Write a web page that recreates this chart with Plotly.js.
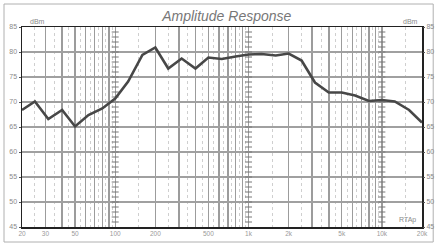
<!DOCTYPE html>
<html><head><meta charset="utf-8">
<script src="https://cdn.plot.ly/plotly-3.0.1.min.js"></script>
<style>html,body{margin:0;padding:0;background:#fff}#chart{width:436px;height:246px}</style>
</head><body><div id="chart"></div>
<script>
const freqs = [20,25,31.5,40,50,63,80,100,125,160,200,250,315,400,500,630,800,1000,1250,1600,2000,2500,3150,4000,5000,6300,8000,10000,12500,16000,20000];
const levels = [68.4,70.1,66.6,68.4,65.1,67.4,68.7,70.7,74.1,79.4,80.9,76.7,78.7,76.7,78.9,78.6,79.1,79.5,79.6,79.3,79.7,78.3,73.9,71.9,71.9,71.3,70.2,70.4,70.1,68.4,65.9];
const gridFreqs = [20,30,40,50,60,70,80,90,100,200,300,400,500,600,700,800,900,1000,2000,3000,4000,5000,6000,7000,8000,9000,10000,20000];
const gridLabels = ['20','30','','50','','','','','100','200','','','500','','','','','1k','2k','','','5k','','','','','10k','20k'];
const minorFreqs = [25,35,45,55,65,75,85,95,150,250,350,450,550,650,750,850,950,1500,2500,3500,4500,5500,6500,7500,8500,9500,15000];
const dbTicks = [45,50,55,60,65,70,75,80,85];
const decadeFreqs = [100,1000,10000];

// decorative ladder ticks on the decade lines (one per dB)
const ladX = [], ladY = [];
decadeFreqs.forEach(f => { for (let d = 46; d < 85; d++) { ladX.push(f); ladY.push(d); } });

const lineTrace = {x:freqs, y:levels, type:'scatter', mode:'lines',
  line:{color:'#474747', width:2.6}, hoverinfo:'skip', showlegend:false};
const ladderTrace = {x:ladX, y:ladY, type:'scatter', mode:'markers',
  marker:{symbol:'line-ew', size:5, line:{color:'#777', width:1}}, hoverinfo:'skip', showlegend:false};
const rightTrace = {x:[20], y:[45], yaxis:'y2', type:'scatter', mode:'markers',
  marker:{opacity:0}, hoverinfo:'skip', showlegend:false};

const tickFont = {family:'Liberation Sans, Arial, sans-serif', size:7, color:'#8a8a8a'};
const xFont = {family:'Liberation Sans, Arial, sans-serif', size:6.5, color:'#9a9a9a'};
const layout = {
  width:436, height:246,
  margin:{l:22, r:14, t:27, b:19},
  paper_bgcolor:'#fff', plot_bgcolor:'#fff',
  title:{text:'<i>Amplitude Response</i>', x:0.52, xanchor:'center', y:0.935, yanchor:'middle',
    font:{family:'Liberation Sans, Arial, sans-serif', size:14, color:'#777'}},
  xaxis:{type:'log', range:[Math.log10(20), Math.log10(20000)],
    tickmode:'array', tickvals:gridFreqs, ticktext:gridLabels,
    showgrid:true, gridcolor:'#9c9c9c', gridwidth:1.4,
    ticks:'', tickfont:xFont, ticklen:0,
    showline:true, linecolor:'#222', linewidth:1.5, mirror:true, zeroline:false,
    minor:{tickmode:'array', tickvals:minorFreqs, showgrid:true, gridcolor:'#cfcfcf', griddash:'dot', gridwidth:1, ticks:''}},
  yaxis:{range:[45,85], tickmode:'array', tickvals:dbTicks,
    showgrid:true, gridcolor:'#a0a0a0', gridwidth:1.3,
    ticks:'outside', ticklen:2, tickcolor:'#555', tickfont:tickFont,
    showline:true, linecolor:'#222', linewidth:1.5, mirror:true, zeroline:false},
  yaxis2:{range:[45,85], overlaying:'y', side:'right', tickmode:'array', tickvals:dbTicks,
    showgrid:false, ticks:'outside', ticklen:2, tickcolor:'#555', tickfont:tickFont, zeroline:false},
  annotations:[
    {text:'dBm', xref:'paper', yref:'paper', x:0.015, y:1.0, xanchor:'left', yanchor:'bottom', showarrow:false, font:tickFont},
    {text:'dBm', xref:'paper', yref:'paper', x:0.995, y:1.0, xanchor:'right', yanchor:'bottom', showarrow:false, font:tickFont},
    {text:'RTAp', xref:'paper', yref:'paper', x:0.99, y:0.005, xanchor:'right', yanchor:'bottom', showarrow:false, font:tickFont}
  ],
  shapes:[
    {type:'rect', xref:'paper', yref:'paper', x0:-0.045, x1:1.028, y0:-0.075, y1:1.115,
      line:{color:'#b0b0b0', width:1}, layer:'below'}
  ]
};
Plotly.newPlot('chart', [ladderTrace, lineTrace, rightTrace], layout, {staticPlot:true, displayModeBar:false});
</script></body></html>
